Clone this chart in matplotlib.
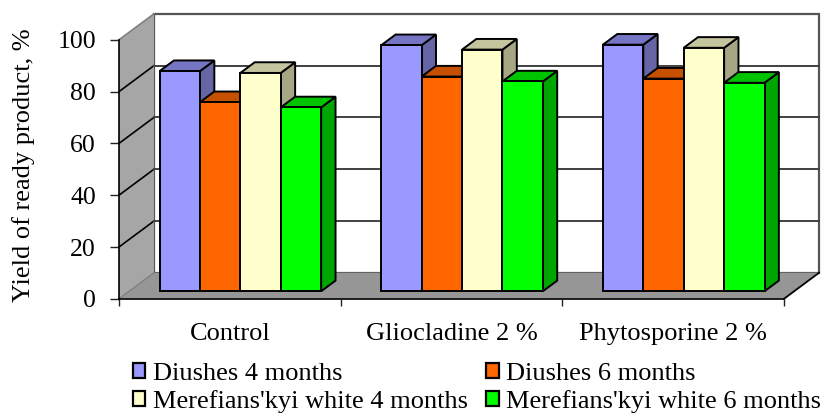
import matplotlib
matplotlib.use("Agg")
import matplotlib.pyplot as plt
from matplotlib.patches import Polygon, Patch

categories = ["Control", "Gliocladine 2 %", "Phytosporine 2 %"]
series_names = ["Diushes 4 months", "Diushes 6 months",
                "Merefians'kyi white 4 months", "Merefians'kyi white 6 months"]
diushes_4 = [85, 95, 95.2]
diushes_6 = [73, 82.9, 82.1]
merefians_4 = [84.3, 93.3, 94]
merefians_6 = [71, 81, 80.5]
y_ticks = [0, 20, 40, 60, 80, 100]

front_colors = ["#9999FF", "#FF6600", "#FFFFCC", "#00FF00"]
top_colors = ["#7575C4", "#C45000", "#C4C49E", "#00C400"]
side_colors = ["#6666A6", "#A64200", "#A6A684", "#00A600"]

W, H = 822, 413
fig = plt.figure(figsize=(W / 100, H / 100), dpi=100)
plt.rcParams["font.family"] = ["Liberation Serif"]
FS = 19

# axes frame is the front plane of the 3-D box
x0, x1, y0, y100 = 119, 784, 298.8, 39.8
ax = fig.add_axes([x0 / W, 1 - y0 / H, (x1 - x0) / W, (y0 - y100) / H])
ax.set_xlim(0, 3)
ax.set_ylim(0, 100)
ax.patch.set_visible(False)

# oblique depth of the box, in data units
PX = (x1 - x0) / 3
DX = 35 / PX
DY = 26 / ((y0 - y100) / 100)


def depth(x, y, d):
    return (x + DX * d, y + DY * d)


def poly(points, face, edge="none", lw=0.0, z=1):
    ax.add_patch(Polygon(points, closed=True, facecolor=face, edgecolor=edge,
                         linewidth=lw, zorder=z, clip_on=False, joinstyle="miter"))


# back wall, side wall and floor
poly([depth(0, 0, 1), depth(3, 0, 1), depth(3, 100, 1), depth(0, 100, 1)],
     "white", "#555555", 1.6, 1)
poly([(0, 0), depth(0, 0, 1), depth(0, 100, 1), (0, 100)], "#A6A6A6", z=1)
poly([(0, 0), (3, 0), depth(3, 0, 1), depth(0, 0, 1)], "#969696", z=1.2)
ax.plot(*zip((3, 0), depth(3, 0, 1)), color="black", lw=1.3, zorder=1.3, clip_on=False)
ax.plot(*zip((0, 100), depth(0, 100, 1)), color="#808080", lw=1.2, zorder=1.3, clip_on=False)
ax.plot(*zip((0, 0), depth(0, 0, 1)), color="#808080", lw=1.0, zorder=1.3, clip_on=False)

# gridlines run along the side wall and across the back wall
for v in y_ticks[1:-1]:
    ax.plot(*zip((0, v), depth(0, v, 1)), color="black", lw=1.2, zorder=1.5, clip_on=False)
    ax.plot(*zip(depth(0, v, 1), depth(3, v, 1)), color="#404040", lw=1.4, zorder=1.5, clip_on=False)

# each bar is a small box: side, then top, then front face
BAR_W = 40.4 / PX
D_FRONT, D_BACK = 0.29, 0.70
BASE = DY * D_FRONT
GAP = (1 - 4 * BAR_W) / 2 + 0.4 / PX
all_values = [diushes_4, diushes_6, merefians_4, merefians_6]
z = 2.0
for c in range(len(categories)):
    for s, vals in enumerate(all_values):
        left = c + GAP + s * BAR_W
        right = left + BAR_W
        v = vals[c]
        fl = (left + DX * D_FRONT, BASE)
        fr = (right + DX * D_FRONT, BASE)
        tl = (left + DX * D_FRONT, BASE + v)
        tr = (right + DX * D_FRONT, BASE + v)
        d = D_BACK - D_FRONT
        br = (fr[0] + DX * d, fr[1] + DY * d)
        tbr = (tr[0] + DX * d, tr[1] + DY * d)
        tbl = (tl[0] + DX * d, tl[1] + DY * d)
        poly([fr, br, tbr, tr], side_colors[s], "black", 1.4, z)
        poly([tl, tr, tbr, tbl], top_colors[s], "black", 1.4, z + 0.01)
        poly([fl, fr, tr, tl], front_colors[s], "black", 1.4, z + 0.02)
        z += 0.1

# front edges and ticks
for side in ["top", "right"]:
    ax.spines[side].set_visible(False)
for side in ["left", "bottom"]:
    ax.spines[side].set_linewidth(1.2)
    ax.spines[side].set_color("black")
ax.set_yticks(y_ticks)
ax.set_xticks([0, 1, 2, 3])
ax.set_xticklabels([])
ax.tick_params(axis="y", direction="out", length=6.5, width=1.0, color="#222222",
               labelsize=18.5, pad=10)
ax.tick_params(axis="x", direction="out", length=5, width=1.0, color="#222222")
for i, name in enumerate(categories):
    ax.text(i + 0.5, -9.3, name, ha="center", va="top", fontsize=FS)
ax.set_ylabel("Yield of ready product, %", fontsize=FS)
ax.yaxis.set_label_coords((35.5 - x0) / (x1 - x0), (y0 - 165) / (y0 - y100))

handles = [Patch(facecolor=front_colors[i], edgecolor="black", linewidth=1.6) for i in [0, 2, 1, 3]]
labels = [series_names[i] for i in [0, 2, 1, 3]]
fig.legend(handles, labels, ncol=2, loc="upper left", bbox_to_anchor=(132.5 / W, 1 - 362.5 / H),
           frameon=False, fontsize=FS, handlelength=0.49, handleheight=0.49, handletextpad=0.28,
           columnspacing=0.68, labelspacing=0.2, borderpad=0, borderaxespad=0)

fig.savefig("out.png", dpi=100)
